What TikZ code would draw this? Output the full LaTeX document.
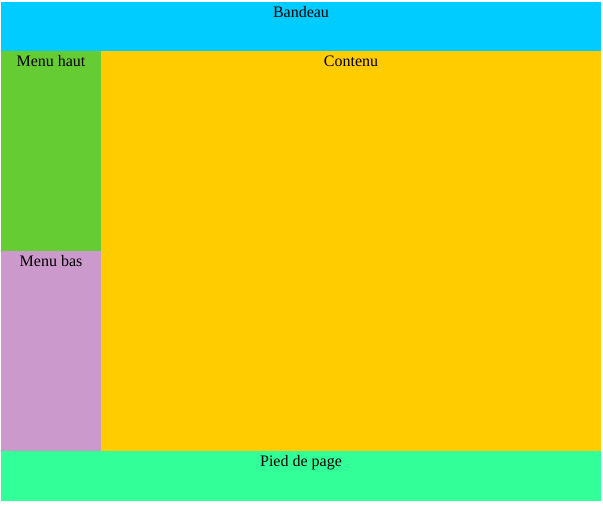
\documentclass[tikz,border=0pt]{standalone}
\usepackage{fontspec}
\setmainfont{Liberation Serif}
\usetikzlibrary{positioning}

\tikzset{
  zone/.style={rectangle, inner sep=0pt, outer sep=0pt, anchor=north west},
  titre/.style={anchor=north, inner sep=0pt, font=\fontsize{16}{19}\selectfont}
}

\begin{document}
\begin{tikzpicture}[x=1pt,y=-1pt]
\useasboundingbox[fill=white] (0,0) rectangle (603,504);
\node[zone, fill={rgb,255:red,0;green,204;blue,255}, minimum width=600pt, minimum height=49pt] (bandeau) at (1,2) {};
\node[zone, fill={rgb,255:red,102;green,204;blue,51}, minimum width=100pt, minimum height=200pt] (menuhaut) at (1,51) {};
\node[zone, fill={rgb,255:red,204;green,153;blue,204}, minimum width=100pt, minimum height=200pt] (menubas) at (1,251) {};
\node[zone, fill={rgb,255:red,255;green,204;blue,0}, minimum width=500pt, minimum height=400pt] (contenu) at (101,51) {};
\node[zone, fill={rgb,255:red,51;green,255;blue,153}, minimum width=600pt, minimum height=50pt] (pied) at (1,451) {};
% titres
\node[titre, below=4.5pt of bandeau.north] (tbandeau) {Bandeau};
\node[titre, below=4.5pt of menuhaut.north] (tmenuhaut) {Menu haut};
\node[titre, below=4.5pt of menubas.north] (tmenubas) {Menu bas};
\node[titre, below=4.5pt of contenu.north] (tcontenu) {Contenu};
\node[titre, below=4.5pt of pied.north] (tpied) {Pied de page};
\end{tikzpicture}
\end{document}
